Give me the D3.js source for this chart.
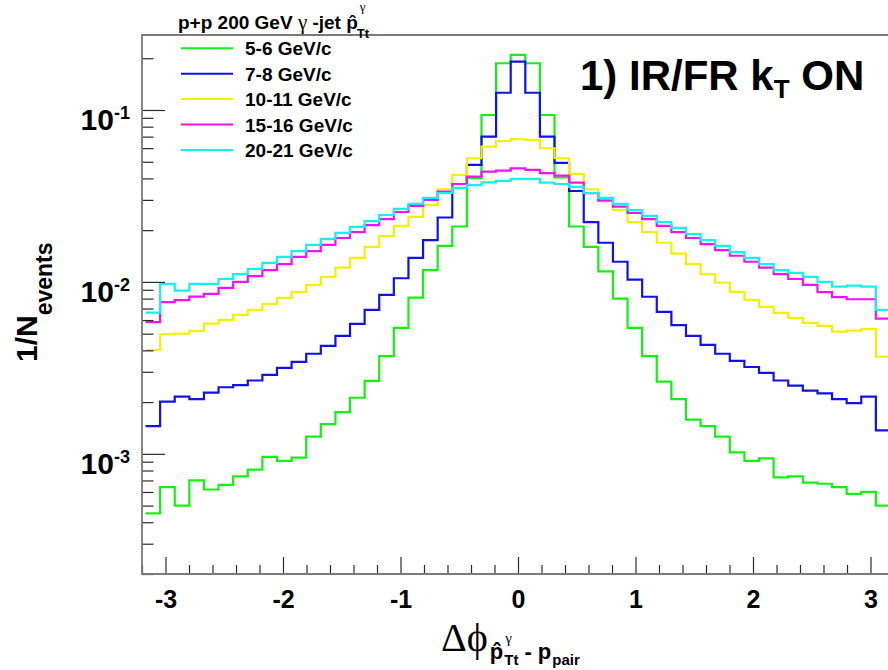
<!DOCTYPE html>
<html>
<head>
<meta charset="utf-8">
<script src="https://cdn.jsdelivr.net/npm/d3@7"></script>
<style>
  body { margin: 0; background: #fff; }
  svg { display: block; }
  .lbl { font-family: "Liberation Sans", Arial, Helvetica, sans-serif; font-weight: bold; fill: #000; }
  .greek { font-family: "Liberation Serif", "Times New Roman", serif; font-weight: normal; }
</style>
</head>
<body>
<svg id="chart" width="888" height="670"></svg>
<script>
// Histogram binning of Δφ (51 bins, bin 25 centred on zero)
const phiRange = [-3.17, 3.17];
const nBins = 51;
const axisRange = [-3.2, 3.2];
const yRange = [2.0e-4, 0.273];

const seriesLabels = ["5-6 GeV/c", "7-8 GeV/c", "10-11 GeV/c", "15-16 GeV/c", "20-21 GeV/c"];
const seriesColors = ["#14f014", "#1212e6", "#f2f200", "#f014f0", "#14f0f0"];

// 1/N_events per bin, pT bin 5-6 GeV/c
const pt5to6 = [
  4.5e-4, 6.4e-4, 5.0e-4, 7.0e-4, 6.2e-4, 6.6e-4, 7.4e-4, 8.1e-4, 9.6e-4, 9.1e-4,
  9.5e-4, 1.26e-3, 1.49e-3, 1.75e-3, 2.12e-3, 2.66e-3, 3.7e-3, 5.4e-3, 8.1e-3, 0.0117,
  0.0162, 0.0210, 0.0401, 0.0935, 0.187, 0.209, 0.187, 0.0935, 0.0405, 0.0210,
  0.0160, 0.0115, 8.0e-3, 5.4e-3, 3.7e-3, 2.63e-3, 2.08e-3, 1.58e-3, 1.45e-3, 1.26e-3,
  1.02e-3, 9.1e-4, 9.4e-4, 7.3e-4, 7.4e-4, 6.8e-4, 6.7e-4, 6.4e-4, 5.85e-4, 6.0e-4,
  5.0e-4
];
// pT bin 7-8 GeV/c
const pt7to8 = [
  1.45e-3, 2.01e-3, 2.15e-3, 2.08e-3, 2.27e-3, 2.44e-3, 2.51e-3, 2.67e-3, 2.88e-3, 3.16e-3,
  3.43e-3, 3.82e-3, 4.25e-3, 4.85e-3, 5.70e-3, 6.87e-3, 8.4e-3, 0.0105, 0.0138, 0.0175,
  0.0237, 0.0371, 0.0479, 0.0699, 0.126, 0.191, 0.126, 0.0699, 0.0492, 0.0338,
  0.0223, 0.0169, 0.0131, 0.0103, 8.2e-3, 6.7e-3, 5.6e-3, 4.85e-3, 4.30e-3, 3.82e-3,
  3.47e-3, 3.2e-3, 2.96e-3, 2.67e-3, 2.49e-3, 2.33e-3, 2.25e-3, 2.08e-3, 1.97e-3, 2.15e-3,
  1.37e-3
];
// pT bin 10-11 GeV/c
const pt10to11 = [
  4.01e-3, 4.96e-3, 5.0e-3, 5.19e-3, 5.72e-3, 6.01e-3, 6.43e-3, 6.87e-3, 7.45e-3, 8.07e-3,
  8.75e-3, 9.6e-3, 0.0107, 0.0121, 0.0138, 0.0160, 0.0185, 0.0212, 0.0239, 0.0280,
  0.0346, 0.0419, 0.0524, 0.0612, 0.0660, 0.0676, 0.0670, 0.0599, 0.0524, 0.0425,
  0.0346, 0.0300, 0.0262, 0.0223, 0.0195, 0.0169, 0.0146, 0.0127, 0.0111, 9.9e-3,
  8.75e-3, 7.86e-3, 7.16e-3, 6.6e-3, 6.18e-3, 5.78e-3, 5.55e-3, 5.14e-3, 5.21e-3, 5.31e-3,
  3.68e-3
];
// pT bin 15-16 GeV/c
const pt15to16 = [
  5.83e-3, 7.62e-3, 7.83e-3, 8.21e-3, 8.51e-3, 9.23e-3, 0.0100, 0.0108, 0.0117, 0.0127,
  0.0140, 0.0151, 0.0164, 0.0180, 0.0195, 0.0214, 0.0232, 0.0255, 0.0277, 0.0300,
  0.0335, 0.0371, 0.0410, 0.0438, 0.0444, 0.0458, 0.0448, 0.0429, 0.0415, 0.0378,
  0.0328, 0.0297, 0.0274, 0.0252, 0.0232, 0.0212, 0.0195, 0.0180, 0.0166, 0.0153,
  0.0142, 0.0131, 0.0121, 0.0111, 0.0104, 9.6e-3, 8.71e-3, 8.15e-3, 7.93e-3, 7.93e-3,
  6.12e-3
];
// pT bin 20-21 GeV/c
const pt20to21 = [
  6.63e-3, 9.73e-3, 8.9e-3, 9.73e-3, 9.73e-3, 0.0104, 0.0111, 0.0119, 0.0129, 0.0140,
  0.0151, 0.0164, 0.0178, 0.0193, 0.0209, 0.0226, 0.0245, 0.0266, 0.0284, 0.0308,
  0.0329, 0.0352, 0.0366, 0.0379, 0.0387, 0.0397, 0.0397, 0.0378, 0.0371, 0.0357,
  0.0329, 0.0308, 0.0284, 0.0262, 0.0242, 0.0223, 0.0206, 0.0190, 0.0175, 0.0162,
  0.0149, 0.0138, 0.0127, 0.0117, 0.0113, 0.0107, 0.0100, 9.39e-3, 9.52e-3, 9.39e-3,
  6.87e-3
];

const xMajorTicks = [-3, -2, -1, 0, 1, 2, 3];
const yMajorTicks = [1e-3, 1e-2, 1e-1];
const yTickExponents = ["-3", "-2", "-1"];

const series = [pt5to6, pt7to8, pt10to11, pt15to16, pt20to21];

// ---- layout ----
const svg = d3.select("#chart");
const frame = { left: 142, right: 894, top: 35, bottom: 574 };

const x = d3.scaleLinear().domain(axisRange).range([frame.left, frame.right]);
const y = d3.scaleLog().domain(yRange).range([frame.bottom, frame.top]);

const binW = (phiRange[1] - phiRange[0]) / nBins;
const edges = d3.range(nBins + 1).map(i => phiRange[0] + i * binW);

svg.append("defs").append("clipPath").attr("id", "plotClip")
  .append("rect").attr("x", frame.left).attr("y", frame.top)
  .attr("width", frame.right - frame.left).attr("height", frame.bottom - frame.top);

// ---- histograms as step lines ----
const stepLine = d3.line()
  .x(d => x(d[0]))
  .y(d => y(d[1]))
  .curve(d3.curveStepAfter);

const gHist = svg.append("g").attr("clip-path", "url(#plotClip)");
series.forEach((vals, si) => {
  const pts = vals.map((v, i) => [edges[i], v]);
  pts.push([edges[nBins], vals[nBins - 1]]);
  gHist.append("path")
    .attr("d", stepLine(pts))
    .attr("fill", "none")
    .attr("stroke", seriesColors[si])
    .attr("stroke-width", 2.2)
    .attr("stroke-linejoin", "miter");
});

// ---- axes ----
const tickColor = "#2a2a2a";
const xMinorTicks = d3.range(-16, 17).map(k => k * 0.2).filter(v => !xMajorTicks.some(m => Math.abs(m - v) < 1e-9));

const gxMinor = svg.append("g").attr("transform", `translate(0,${frame.bottom})`)
  .call(d3.axisBottom(x).tickValues(xMinorTicks).tickSize(-9).tickFormat(""));
const gx = svg.append("g").attr("transform", `translate(0,${frame.bottom})`)
  .call(d3.axisBottom(x).tickValues(xMajorTicks).tickSize(-17).tickPadding(16).tickFormat(d3.format("d")));

const yMinorTicks = [];
[-4, -3, -2, -1].forEach(e => {
  for (let m = 2; m <= 9; m++) {
    const v = m * Math.pow(10, e);
    if (v >= yRange[0] && v <= yRange[1]) yMinorTicks.push(v);
  }
});
const gyMinor = svg.append("g").attr("transform", `translate(${frame.left},0)`)
  .call(d3.axisLeft(y).tickValues(yMinorTicks).tickSize(-11.5).tickFormat(""));
const gy = svg.append("g").attr("transform", `translate(${frame.left},0)`)
  .call(d3.axisLeft(y).tickValues(yMajorTicks).tickSize(-23).tickFormat(""));

[gxMinor, gx, gyMinor, gy].forEach(g => {
  g.select(".domain").remove();
  g.selectAll(".tick line").attr("stroke", tickColor).attr("stroke-width", 1.2);
});

gx.selectAll(".tick text")
  .attr("class", "lbl")
  .style("font-size", "25px")
  .attr("fill", "#000")
  .text(d => d < 0 ? "-" + Math.abs(d) : String(d));

// y labels 10^n
gy.selectAll(".tick").each(function (d, i) {
  const t = d3.select(this).append("text")
    .attr("class", "lbl")
    .attr("x", -12)
    .attr("y", 20)
    .attr("text-anchor", "end")
    .style("font-size", "30px");
  t.append("tspan").text("10");
  t.append("tspan").attr("dy", -11).style("font-size", "18px").text(yTickExponents[i]);
});

// frame (right side lies beyond the canvas)
const frameColor = "#7a7a7a";
svg.append("path")
  .attr("d", `M${frame.right},${frame.top}H${frame.left}V${frame.bottom}H${frame.right}`)
  .attr("fill", "none").attr("stroke", frameColor).attr("stroke-width", 1.8);

// ---- axis titles ----
const yTitle = svg.append("text").attr("class", "lbl")
  .attr("transform", "translate(37,362) rotate(-90)")
  .style("font-size", "30px");
yTitle.append("tspan").text("1/N");
yTitle.append("tspan").attr("dy", 15).style("font-size", "23px").text("events");

// Δφ with composite subscript (p-hat carries the photon index)
const xtX = 441, xtBase = 651;
const xt = svg.append("text").attr("x", xtX).attr("y", xtBase)
  .attr("class", "greek").style("font-size", "40px").text("Δϕ");
const xtEnd = xtX + xt.node().getComputedTextLength();
const pX = xtEnd + 2;
const subP = svg.append("text").attr("class", "lbl").attr("x", pX).attr("y", 659)
  .style("font-size", "22px").text("p\u0302");
const subPW = subP.node().getComputedTextLength();
svg.append("text").attr("class", "greek").attr("x", pX + subPW + 2).attr("y", 643)
  .style("font-size", "15px").text("γ");
const subTt = svg.append("text").attr("class", "lbl").attr("x", pX + subPW + 1).attr("y", 665)
  .style("font-size", "15px").text("Tt");
const ttEnd = pX + subPW + 1 + subTt.node().getComputedTextLength();
const subRest = svg.append("text").attr("class", "lbl").attr("x", ttEnd + 6).attr("y", 659)
  .style("font-size", "22px").text("- p");
const restEnd = ttEnd + 6 + subRest.node().getComputedTextLength();
svg.append("text").attr("class", "lbl").attr("x", restEnd + 1).attr("y", 665)
  .style("font-size", "15px").text("pair");

// ---- legend ----
const hdrX = 178, hdrY = 29;
const hdr = svg.append("text").attr("class", "lbl").attr("x", hdrX).attr("y", hdrY)
  .style("font-size", "19px");
hdr.append("tspan").text("p+p 200 GeV ");
hdr.append("tspan").attr("class", "greek").style("font-size", "21px").text("γ");
hdr.append("tspan").text(" -jet ");
hdr.append("tspan").text("p\u0302");
const hdrEnd = hdrX + hdr.node().getComputedTextLength();
svg.append("text").attr("class", "greek").attr("x", hdrEnd + 2).attr("y", hdrY - 18)
  .style("font-size", "13px").text("γ");
svg.append("text").attr("class", "lbl").attr("x", hdrEnd - 1).attr("y", hdrY + 9)
  .style("font-size", "13px").text("Tt");

const legRow0 = 48.3, legStep = 25.4;
const leg = svg.append("g");
seriesLabels.forEach((lab, i) => {
  const ry = legRow0 + i * legStep;
  leg.append("line").attr("x1", 181).attr("x2", 233).attr("y1", ry).attr("y2", ry)
    .attr("stroke", seriesColors[i]).attr("stroke-width", 2);
  leg.append("text").attr("class", "lbl").attr("x", 245).attr("y", ry + 7)
    .style("font-size", "19px").text(lab);
});

// ---- panel title ----
const title = svg.append("text").attr("class", "lbl").attr("x", 580).attr("y", 90)
  .style("font-size", "42px");
title.append("tspan").text("1) IR/FR k");
title.append("tspan").attr("dy", 8).style("font-size", "26px").text("T");
title.append("tspan").attr("dy", -8).text(" ON");
</script>
</body>
</html>
